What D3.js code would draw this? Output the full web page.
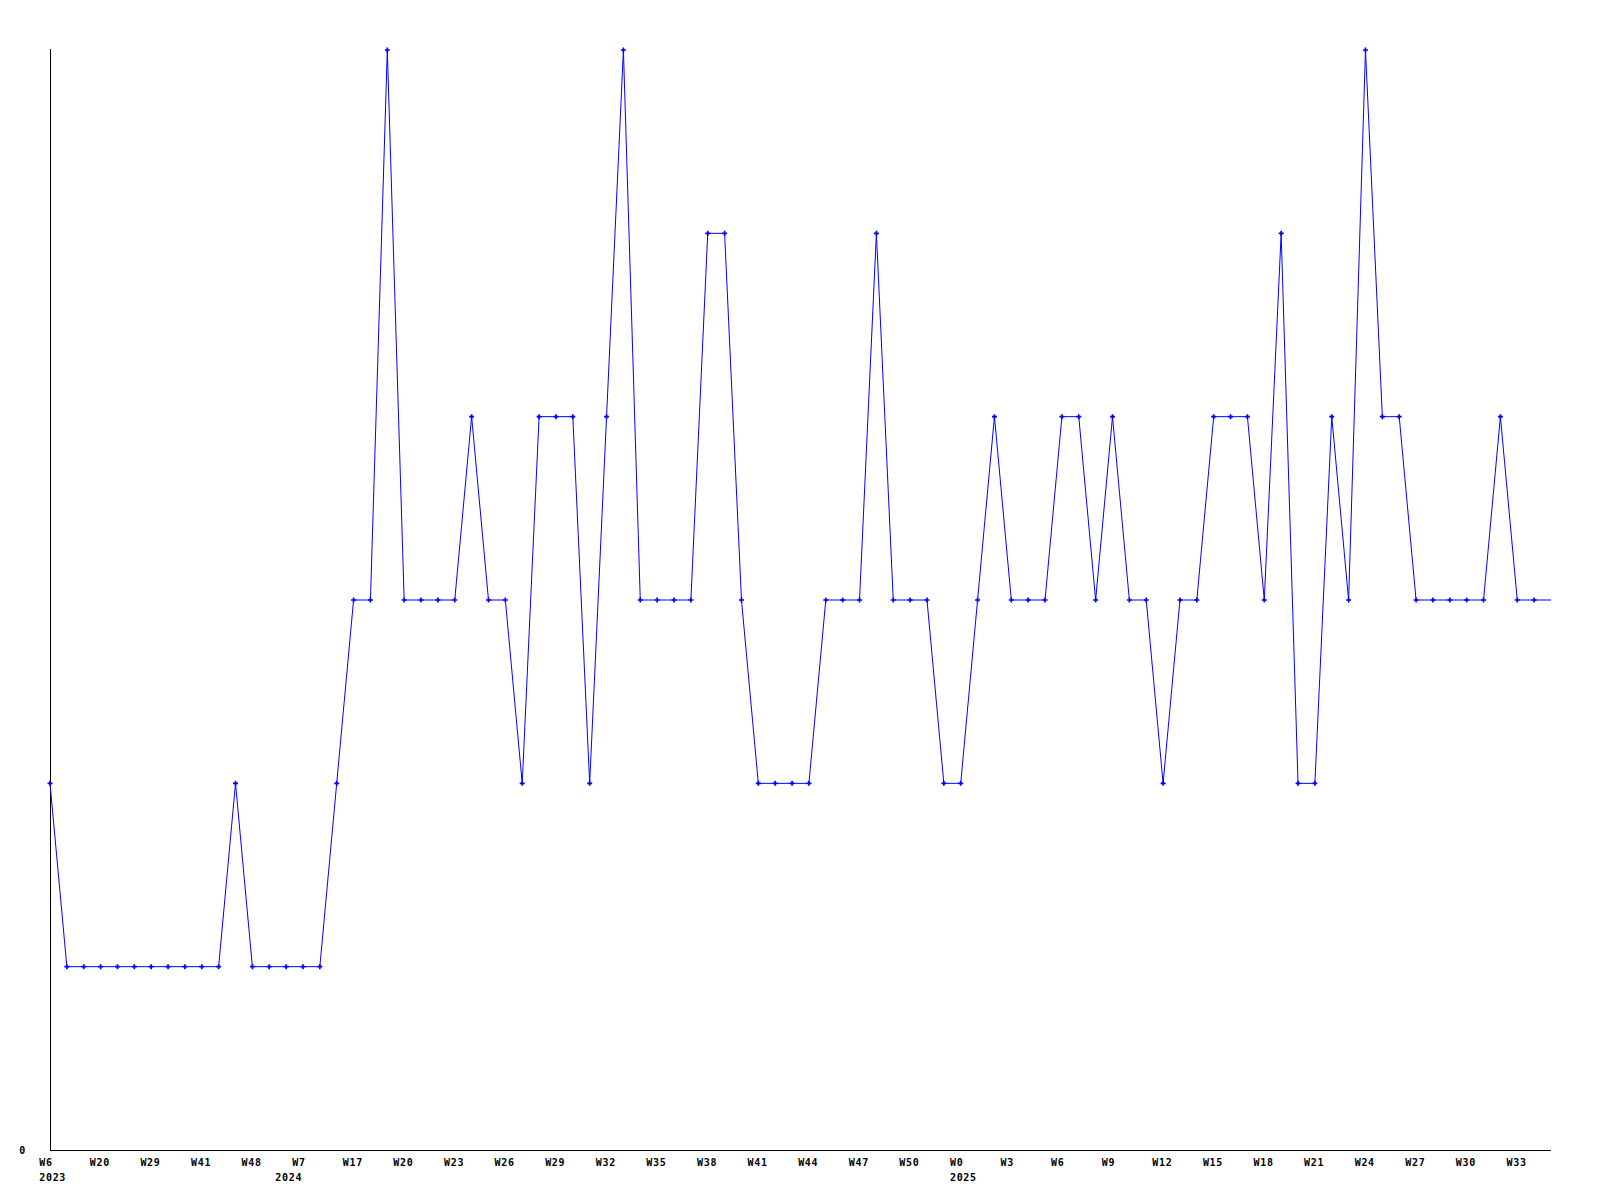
<!DOCTYPE html>
<html>
<head>
<meta charset="utf-8">
<script src="https://cdn.jsdelivr.net/npm/d3@7"></script>
<style>
  html, body { margin: 0; padding: 0; background: #ffffff; }
  svg { display: block; }
  text { font-family: "DejaVu Sans Mono", "Liberation Mono", monospace; font-weight: bold; font-size: 10px; letter-spacing: 0.7px; fill: #000; }
</style>
</head>
<body>
<svg id="chart" width="1600" height="1200"></svg>
<script>
// Weekly values (one per point, left to right)
const values = [
  2, 1, 1, 1, 1, 1, 1, 1, 1, 1,
  1, 2, 1, 1, 1, 1, 1, 2, 3, 3,
  6, 3, 3, 3, 3, 4, 3, 3, 2, 4,
  4, 4, 2, 4, 6, 3, 3, 3, 3, 5,
  5, 3, 2, 2, 2, 2, 3, 3, 3, 5,
  3, 3, 3, 2, 2, 3, 4, 3, 3, 3,
  4, 4, 3, 4, 3, 3, 2, 3, 3, 4,
  4, 4, 3, 5, 2, 2, 4, 3, 6, 4,
  4, 3, 3, 3, 3, 3, 4, 3, 3, 3
];
// Week tick labels, shown on every third point
const weekLabels = ["W6","W20","W29","W41","W48","W7","W17","W20","W23","W26",
  "W29","W32","W35","W38","W41","W44","W47","W50","W0","W3",
  "W6","W9","W12","W15","W18","W21","W24","W27","W30","W33"];
const weekStep = 3;
// Year labels and the point index where each year starts
const yearLabels = ["2023","2024","2025"];
const yearStart = [0, 14, 54];
const yTickLabels = ["0"];

const svg = d3.select("#chart");
const x0 = 50, x1 = 1551, yBottom = 1150, yTop = 50;

const x = d3.scalePoint().domain(d3.range(values.length)).range([x0, x1]);
const y = d3.scaleLinear().domain([0, 6]).range([yBottom, yTop]);

// axes lines
svg.append("line").attr("x1", x0 + 0.5).attr("x2", x0 + 0.5)
  .attr("y1", yTop - 1).attr("y2", yBottom + 0.5).attr("stroke", "#000").attr("stroke-width", 1);
svg.append("line").attr("x1", x0).attr("x2", x1)
  .attr("y1", yBottom + 0.5).attr("y2", yBottom + 0.5).attr("stroke", "#000").attr("stroke-width", 1);

// y label
svg.selectAll("text.ylab").data(yTickLabels).enter().append("text")
  .attr("class", "ylab").attr("x", 26).attr("y", d => y(+d) + 4)
  .attr("text-anchor", "end").text(d => d);

// week labels
svg.selectAll("text.wk").data(weekLabels).enter().append("text")
  .attr("class", "wk")
  .attr("x", (d, i) => x(i * weekStep) - 10.8)
  .attr("y", 1166)
  .text(d => d);

// year labels
svg.selectAll("text.yr").data(yearLabels).enter().append("text")
  .attr("class", "yr")
  .attr("x", (d, i) => x(yearStart[i]) - 10.8)
  .attr("y", 1181)
  .text(d => d);

// line
const line = d3.line().x((d, i) => x(i)).y(d => y(d));
svg.append("path").datum(values)
  .attr("d", line).attr("fill", "none").attr("stroke", "#0000ff").attr("stroke-width", 1);

// markers (last point drawn without marker)
const sym = d3.symbol().type(d3.symbolCross).size(14);
svg.selectAll("path.mk").data(values.slice(0, -1)).enter().append("path")
  .attr("class", "mk")
  .attr("transform", (d, i) => `translate(${x(i)},${y(d)})`)
  .attr("d", sym).attr("fill", "#0000ff");
</script>
</body>
</html>
